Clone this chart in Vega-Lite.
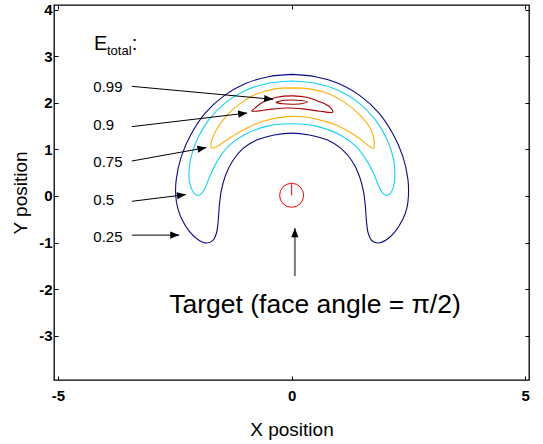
{
  "$schema": "https://vega.github.io/schema/vega-lite/v6.json",
  "width": 475,
  "height": 375,
  "autosize": {"type": "none"},
  "padding": {"left": 54, "top": 5, "right": 14, "bottom": 64},
  "background": "#ffffff",
  "config": {
    "font": "Liberation Sans",
    "view": {"stroke": "#000000", "strokeWidth": 1.3},
    "axis": {
      "grid": false, "domain": false, "ticks": true, "tickColor": "#000000", "tickSize": -4, "tickWidth": 1,
      "labelFont": "Liberation Sans", "labelFontSize": 15, "labelFontWeight": "bold", "labelColor": "#000000",
      "titleFont": "Liberation Sans", "titleFontSize": 19, "titleFontWeight": "normal", "titleColor": "#000000"
    }
  },
  "datasets": {
    "contours": [
      {"level":"0.25","i":1,"x":0.00,"y":2.61},{"level":"0.25","i":2,"x":-0.50,"y":2.56},{"level":"0.25","i":3,"x":-1.00,"y":2.41},{"level":"0.25","i":4,"x":-1.45,"y":2.15},{"level":"0.25","i":5,"x":-1.85,"y":1.78},{"level":"0.25","i":6,"x":-2.15,"y":1.33},{"level":"0.25","i":7,"x":-2.36,"y":0.85},{"level":"0.25","i":8,"x":-2.47,"y":0.35},{"level":"0.25","i":9,"x":-2.48,"y":0.00},{"level":"0.25","i":10,"x":-2.44,"y":-0.25},{"level":"0.25","i":11,"x":-2.35,"y":-0.50},{"level":"0.25","i":12,"x":-2.18,"y":-0.77},{"level":"0.25","i":13,"x":-2.00,"y":-0.94},{"level":"0.25","i":14,"x":-1.82,"y":-1.01},{"level":"0.25","i":15,"x":-1.69,"y":-0.96},{"level":"0.25","i":16,"x":-1.61,"y":-0.80},{"level":"0.25","i":17,"x":-1.57,"y":-0.52},{"level":"0.25","i":18,"x":-1.55,"y":-0.24},{"level":"0.25","i":19,"x":-1.51,"y":0.09},{"level":"0.25","i":20,"x":-1.42,"y":0.43},{"level":"0.25","i":21,"x":-1.27,"y":0.74},{"level":"0.25","i":22,"x":-1.05,"y":1.01},{"level":"0.25","i":23,"x":-0.75,"y":1.20},{"level":"0.25","i":24,"x":-0.37,"y":1.31},{"level":"0.25","i":25,"x":0.00,"y":1.35},{"level":"0.25","i":26,"x":0.38,"y":1.31},{"level":"0.25","i":27,"x":0.77,"y":1.20},{"level":"0.25","i":28,"x":1.07,"y":1.01},{"level":"0.25","i":29,"x":1.30,"y":0.74},{"level":"0.25","i":30,"x":1.45,"y":0.43},{"level":"0.25","i":31,"x":1.54,"y":0.09},{"level":"0.25","i":32,"x":1.58,"y":-0.24},{"level":"0.25","i":33,"x":1.60,"y":-0.52},{"level":"0.25","i":34,"x":1.64,"y":-0.80},{"level":"0.25","i":35,"x":1.72,"y":-0.96},{"level":"0.25","i":36,"x":1.86,"y":-1.01},{"level":"0.25","i":37,"x":2.03,"y":-0.94},{"level":"0.25","i":38,"x":2.21,"y":-0.77},{"level":"0.25","i":39,"x":2.38,"y":-0.50},{"level":"0.25","i":40,"x":2.47,"y":-0.25},{"level":"0.25","i":41,"x":2.50,"y":0.00},{"level":"0.25","i":42,"x":2.49,"y":0.35},{"level":"0.25","i":43,"x":2.38,"y":0.85},{"level":"0.25","i":44,"x":2.17,"y":1.33},{"level":"0.25","i":45,"x":1.87,"y":1.78},{"level":"0.25","i":46,"x":1.47,"y":2.15},{"level":"0.25","i":47,"x":1.02,"y":2.41},{"level":"0.25","i":48,"x":0.51,"y":2.56},{"level":"0.25","i":49,"x":0.00,"y":2.61},
      {"level":"0.5","i":1,"x":0.00,"y":2.47},{"level":"0.5","i":2,"x":-0.50,"y":2.42},{"level":"0.5","i":3,"x":-1.00,"y":2.26},{"level":"0.5","i":4,"x":-1.42,"y":2.00},{"level":"0.5","i":5,"x":-1.77,"y":1.64},{"level":"0.5","i":6,"x":-2.02,"y":1.22},{"level":"0.5","i":7,"x":-2.16,"y":0.80},{"level":"0.5","i":8,"x":-2.20,"y":0.45},{"level":"0.5","i":9,"x":-2.16,"y":0.20},{"level":"0.5","i":10,"x":-2.08,"y":0.05},{"level":"0.5","i":11,"x":-2.00,"y":0.01},{"level":"0.5","i":12,"x":-1.92,"y":0.06},{"level":"0.5","i":13,"x":-1.84,"y":0.20},{"level":"0.5","i":14,"x":-1.74,"y":0.45},{"level":"0.5","i":15,"x":-1.58,"y":0.77},{"level":"0.5","i":16,"x":-1.35,"y":1.07},{"level":"0.5","i":17,"x":-1.02,"y":1.31},{"level":"0.5","i":18,"x":-0.52,"y":1.50},{"level":"0.5","i":19,"x":0.00,"y":1.55},{"level":"0.5","i":20,"x":0.52,"y":1.50},{"level":"0.5","i":21,"x":1.04,"y":1.31},{"level":"0.5","i":22,"x":1.37,"y":1.07},{"level":"0.5","i":23,"x":1.60,"y":0.77},{"level":"0.5","i":24,"x":1.77,"y":0.45},{"level":"0.5","i":25,"x":1.87,"y":0.20},{"level":"0.5","i":26,"x":1.95,"y":0.06},{"level":"0.5","i":27,"x":2.03,"y":0.01},{"level":"0.5","i":28,"x":2.11,"y":0.05},{"level":"0.5","i":29,"x":2.18,"y":0.20},{"level":"0.5","i":30,"x":2.21,"y":0.45},{"level":"0.5","i":31,"x":2.18,"y":0.80},{"level":"0.5","i":32,"x":2.04,"y":1.22},{"level":"0.5","i":33,"x":1.79,"y":1.64},{"level":"0.5","i":34,"x":1.44,"y":2.00},{"level":"0.5","i":35,"x":1.02,"y":2.26},{"level":"0.5","i":36,"x":0.52,"y":2.42},{"level":"0.5","i":37,"x":0.00,"y":2.47},
      {"level":"0.75","i":1,"x":0.00,"y":2.32},{"level":"0.75","i":2,"x":-0.35,"y":2.30},{"level":"0.75","i":3,"x":-0.75,"y":2.19},{"level":"0.75","i":4,"x":-1.08,"y":2.00},{"level":"0.75","i":5,"x":-1.36,"y":1.76},{"level":"0.75","i":6,"x":-1.58,"y":1.47},{"level":"0.75","i":7,"x":-1.70,"y":1.23},{"level":"0.75","i":8,"x":-1.73,"y":1.08},{"level":"0.75","i":9,"x":-1.71,"y":1.03},{"level":"0.75","i":10,"x":-1.62,"y":1.05},{"level":"0.75","i":11,"x":-1.42,"y":1.18},{"level":"0.75","i":12,"x":-1.12,"y":1.37},{"level":"0.75","i":13,"x":-0.62,"y":1.60},{"level":"0.75","i":14,"x":0.00,"y":1.71},{"level":"0.75","i":15,"x":0.58,"y":1.64},{"level":"0.75","i":16,"x":1.00,"y":1.50},{"level":"0.75","i":17,"x":1.40,"y":1.27},{"level":"0.75","i":18,"x":1.66,"y":1.07},{"level":"0.75","i":19,"x":1.75,"y":1.02},{"level":"0.75","i":20,"x":1.77,"y":1.12},{"level":"0.75","i":21,"x":1.70,"y":1.42},{"level":"0.75","i":22,"x":1.48,"y":1.72},{"level":"0.75","i":23,"x":1.12,"y":2.02},{"level":"0.75","i":24,"x":0.75,"y":2.21},{"level":"0.75","i":25,"x":0.38,"y":2.30},{"level":"0.75","i":26,"x":0.00,"y":2.32},
      {"level":"0.9","i":1,"x":-0.86,"y":1.82},{"level":"0.9","i":2,"x":-0.61,"y":2.02},{"level":"0.9","i":3,"x":-0.32,"y":2.12},{"level":"0.9","i":4,"x":0.03,"y":2.15},{"level":"0.9","i":5,"x":0.32,"y":2.12},{"level":"0.9","i":6,"x":0.61,"y":2.02},{"level":"0.9","i":7,"x":0.82,"y":1.91},{"level":"0.9","i":8,"x":0.88,"y":1.80},{"level":"0.9","i":9,"x":0.61,"y":1.82},{"level":"0.9","i":10,"x":0.25,"y":1.87},{"level":"0.9","i":11,"x":-0.11,"y":1.89},{"level":"0.9","i":12,"x":-0.46,"y":1.86},{"level":"0.9","i":13,"x":-0.75,"y":1.82},{"level":"0.9","i":14,"x":-0.86,"y":1.82},
      {"level":"0.99","i":1,"x":-0.34,"y":2.01},{"level":"0.99","i":2,"x":-0.20,"y":2.05},{"level":"0.99","i":3,"x":0.00,"y":2.06},{"level":"0.99","i":4,"x":0.20,"y":2.05},{"level":"0.99","i":5,"x":0.34,"y":2.02},{"level":"0.99","i":6,"x":0.20,"y":1.98},{"level":"0.99","i":7,"x":0.00,"y":1.97},{"level":"0.99","i":8,"x":-0.20,"y":1.98},{"level":"0.99","i":9,"x":-0.34,"y":2.01}
    ],
    "arrows": [
      {"kind":"label","x":-3.42,"y":2.354,"x2":-0.395,"y2":2.075},
      {"kind":"label","x":-3.42,"y":1.489,"x2":-0.951,"y2":1.781},
      {"kind":"label","x":-3.42,"y":0.751,"x2":-1.823,"y2":1.039},
      {"kind":"label","x":-3.42,"y":-0.114,"x2":-2.262,"y2":0.030},
      {"kind":"label","x":-3.42,"y":-0.84,"x2":-2.405,"y2":-0.84},
      {"kind":"target","x":0.07,"y":-1.72,"x2":0.07,"y2":-0.69}
    ],
    "levels": [
      {"text":"0.99","x":-4.245,"y":2.232},
      {"text":"0.9","x":-4.245,"y":1.425},
      {"text":"0.75","x":-4.245,"y":0.622},
      {"text":"0.5","x":-4.245,"y":-0.185},
      {"text":"0.25","x":-4.245,"y":-0.987}
    ],
    "etotal": [
      {"part":"E","x":-4.23,"y":3.127},
      {"part":"total","x":-3.952,"y":3.034},
      {"part":":","x":-3.42,"y":3.127}
    ],
    "target": [{"x":0.0,"y":0.015,"y2":0.265}],
    "caption": [{"text":"Target (face angle = π/2)","x":-2.619,"y":-2.502}]
  },
  "encoding": {
    "x": {"field":"x","type":"quantitative","scale":{"domain":[-5.086,5.081],"nice":false,"zero":false},"axis":null},
    "y": {"field":"y","type":"quantitative","scale":{"domain":[-3.95,4.1],"nice":false,"zero":false},"axis":null}
  },
  "layer": [
    {
      "data": {"name":"contours"},
      "mark": {"type":"line","strokeWidth":1.1,"interpolate":"catmull-rom"},
      "encoding": {
        "x": {"field":"x","type":"quantitative","scale":{"domain":[-5.086,5.081],"nice":false,"zero":false},
              "axis":{"orient":"bottom","values":[-5,0,5],"title":"X position","labelPadding":12,"titlePadding":17,"labelExpr":"'' + datum.value"}},
        "y": {"field":"y","type":"quantitative","scale":{"domain":[-3.95,4.1],"nice":false,"zero":false},
              "axis":{"orient":"left","values":[-3,-2,-1,0,1,2,3,4],"title":"Y position","labelPadding":6,"titlePadding":8,"labelExpr":"'' + datum.value"}},
        "color": {"field":"level","type":"nominal","legend":null,
                  "scale":{"domain":["0.25","0.5","0.75","0.9","0.99"],"range":["#0a0a8c","#10d4f4","#ffb000","#b00000","#9a0000"]}},
        "order": {"field":"i","type":"quantitative"}
      }
    },
    {
      "data": {"name":"target"},
      "mark": {"type":"point","shape":"circle","filled":false,"size":576,"stroke":"#ff0000","strokeWidth":1,"opacity":1},
      "encoding": {
        "x": {"field":"x","type":"quantitative","scale":{"domain":[-5.086,5.081],"nice":false,"zero":false},
              "axis":{"orient":"top","values":[-5,0,5],"labels":false,"title":null}},
        "y": {"field":"y","type":"quantitative","scale":{"domain":[-3.95,4.1],"nice":false,"zero":false},
              "axis":{"orient":"right","values":[-3,-2,-1,0,1,2,3,4],"labels":false,"title":null}}
      }
    },
    {
      "data": {"name":"target"},
      "mark": {"type":"rule","color":"#ff0000","strokeWidth":1},
      "encoding": {"y2": {"field":"y2"}}
    },
    {
      "data": {"name":"arrows"},
      "transform": [{"filter":"datum.kind === 'label'"}],
      "mark": {"type":"rule","color":"#000000","strokeWidth":1},
      "encoding": {"x2": {"field":"x2"}, "y2": {"field":"y2"}}
    },
    {
      "data": {"name":"arrows"},
      "transform": [{"filter":"datum.kind === 'target'"}],
      "mark": {"type":"rule","color":"#7a7a7a","strokeWidth":2},
      "encoding": {"x2": {"field":"x2"}, "y2": {"field":"y2"}}
    },
    {
      "data": {"name":"arrows"},
      "transform": [{"calculate":"atan2(-(datum.y2 - datum.y), datum.x2 - datum.x) * 180 / PI","as":"ang"}],
      "mark": {"type":"point","shape":"M0,0L-2,-0.8L-2,0.8Z","filled":true,"size":81,"color":"#000000","opacity":1,"strokeWidth":0},
      "encoding": {
        "x": {"field":"x2","type":"quantitative","scale":{"domain":[-5.086,5.081],"nice":false,"zero":false},"axis":null},
        "y": {"field":"y2","type":"quantitative","scale":{"domain":[-3.95,4.1],"nice":false,"zero":false},"axis":null},
        "angle": {"field":"ang","type":"quantitative","scale":null}
      }
    },
    {
      "data": {"name":"levels"},
      "mark": {"type":"text","align":"left","baseline":"alphabetic","fontSize":15,"color":"#000000","font":"Liberation Sans"},
      "encoding": {"text": {"field":"text"}}
    },
    {
      "data": {"name":"etotal"},
      "transform": [{"filter":"datum.part !== 'total'"}],
      "mark": {"type":"text","align":"left","baseline":"alphabetic","fontSize":20,"color":"#000000","font":"Liberation Sans"},
      "encoding": {"text": {"field":"part"}}
    },
    {
      "data": {"name":"etotal"},
      "transform": [{"filter":"datum.part === 'total'"}],
      "mark": {"type":"text","align":"left","baseline":"alphabetic","fontSize":13,"color":"#000000","font":"Liberation Sans"},
      "encoding": {"text": {"field":"part"}}
    },
    {
      "data": {"name":"caption"},
      "mark": {"type":"text","align":"left","baseline":"alphabetic","fontSize":26.5,"color":"#000000","font":"Liberation Sans"},
      "encoding": {"text": {"field":"text"}}
    }
  ],
  "resolve": {"axis": {"x":"independent","y":"independent"}}
}
